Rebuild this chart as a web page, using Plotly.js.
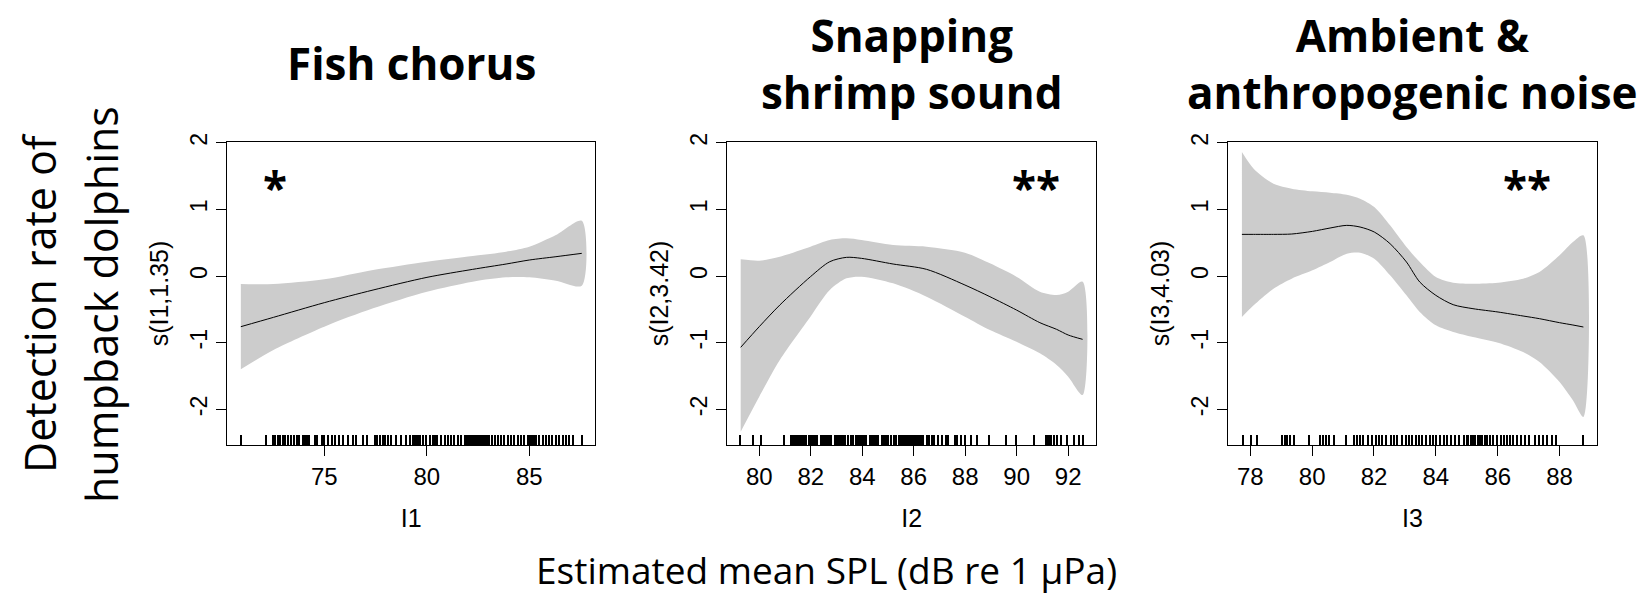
<!DOCTYPE html>
<html>
<head>
<meta charset="utf-8">
<script src="https://cdn.plot.ly/plotly-3.0.1.min.js"></script>
<style>
  html, body { margin: 0; padding: 0; background: #ffffff; }
  #chart { width: 1644px; height: 597px; }
</style>
</head>
<body>
<div id="chart"></div>
<script>
// ---------------- Data ----------------
// Panel 1: Fish chorus, s(I1,1.35)
const x1 = [70.93, 72.52, 75.0, 77.38, 80.01, 82.24, 83.87, 85.0, 86.3, 87.56];
const fit1 = [-0.76, -0.62, -0.40, -0.21, -0.02, 0.10, 0.18, 0.24, 0.29, 0.34];
const up1 = [-0.12, -0.12, -0.05, 0.09, 0.215, 0.30, 0.365, 0.44, 0.615, 0.83];
const lo1 = [-1.40, -1.11, -0.76, -0.485, -0.235, -0.085, -0.02, -0.02, -0.07, -0.145];
const rug1 = [70.93, 72.16, 72.49, 72.60, 72.73, 72.84, 72.97, 73.10, 73.22, 73.36, 73.53, 73.65, 73.78,
  73.98, 74.05, 74.12, 74.20, 74.27, 74.55, 74.66, 74.87, 75.0, 75.19, 75.36, 75.52, 75.73, 75.92, 76.17,
  76.41, 76.57, 76.90, 77.06, 77.46, 77.58, 77.71, 77.84, 77.95, 78.11, 78.27, 78.52, 78.76, 79.0, 79.17,
  79.33, 79.40, 79.48, 79.55, 79.65, 79.81, 79.98, 80.14, 80.30, 80.38, 80.49, 80.70, 80.87, 81.03, 81.19,
  81.35, 81.52, 81.68, 81.84, 81.92, 82.0, 82.08, 82.16, 82.24, 82.32, 82.4, 82.48, 82.56, 82.64, 82.72,
  82.8, 82.88, 82.96, 83.04, 83.18, 83.35, 83.46, 83.62, 83.78, 83.95, 84.11, 84.27, 84.43, 84.59, 84.76,
  84.92, 85.0, 85.08, 85.16, 85.25, 85.32, 85.49, 85.65, 85.81, 85.97, 86.13, 86.30, 86.46, 86.62, 86.78,
  86.94, 87.11, 87.56];
const ticks1 = [75, 80, 85];

// Panel 2: Snapping shrimp sound, s(I2,3.42)
const x2 = [79.28, 80.0, 80.80, 81.99, 82.74, 83.39, 83.97, 85.20, 86.50, 87.99, 88.96, 89.99, 90.90, 91.55, 92.0, 92.56];
const fit2 = [-1.07, -0.76, -0.435, -0.01, 0.215, 0.28, 0.265, 0.18, 0.10, -0.135, -0.31, -0.51, -0.70, -0.80, -0.885, -0.95];
const up2 = [0.25, 0.23, 0.29, 0.44, 0.54, 0.565, 0.54, 0.465, 0.44, 0.35, 0.19, -0.01, -0.235, -0.285, -0.235, -0.085];
const lo2 = [-2.335, -1.81, -1.26, -0.61, -0.21, -0.035, -0.01, -0.11, -0.31, -0.61, -0.81, -0.985, -1.16, -1.335, -1.51, -1.785];
const rug2 = [79.27, 79.74, 80.06, 80.97, 81.23, 81.30, 81.36, 81.43, 81.50, 81.60, 81.68, 81.75, 81.81,
  81.92, 82.0, 82.08, 82.16, 82.24, 82.40, 82.48, 82.56, 82.64, 82.72, 82.80, 82.95, 83.03, 83.11, 83.19,
  83.27, 83.35, 83.43, 83.58, 83.66, 83.74, 83.82, 83.90, 83.98, 84.06, 84.14, 84.30, 84.38, 84.46, 84.54,
  84.62, 84.78, 84.86, 84.94, 85.02, 85.10, 85.25, 85.33, 85.41, 85.49, 85.57, 85.65, 85.73, 85.81, 85.89,
  85.97, 86.05, 86.13, 86.21, 86.29, 86.37, 86.50, 86.60, 86.70, 86.80, 86.95, 87.10, 87.25, 87.35,
  87.60, 87.70, 87.85, 88.0, 88.21, 88.47, 88.93, 89.57, 89.96, 90.67, 91.13, 91.20, 91.28, 91.35, 91.45,
  91.55, 91.71, 91.97, 92.23, 92.42, 92.56];
const ticks2 = [80, 82, 84, 86, 88, 90, 92];

// Panel 3: Ambient & anthropogenic noise, s(I3,4.03)
const x3 = [77.73, 78.11, 78.75, 79.34, 80.01, 80.58, 81.12, 81.55, 82.01, 82.52, 83.05, 83.48, 84.0, 84.56, 85.2, 86.01, 86.82, 87.35, 88.0, 88.43, 88.77];
const fit3 = [0.625, 0.625, 0.625, 0.63, 0.67, 0.72, 0.76, 0.735, 0.66, 0.485, 0.21, -0.09, -0.29, -0.43, -0.49, -0.54, -0.60, -0.64, -0.70, -0.735, -0.765];
const up3 = [1.86, 1.61, 1.385, 1.31, 1.27, 1.25, 1.22, 1.16, 1.035, 0.76, 0.435, 0.21, -0.015, -0.10, -0.115, -0.10, -0.04, 0.06, 0.31, 0.51, 0.61];
const lo3 = [-0.615, -0.44, -0.19, -0.04, 0.085, 0.21, 0.335, 0.35, 0.26, 0.01, -0.29, -0.54, -0.74, -0.84, -0.915, -1.0, -1.14, -1.29, -1.59, -1.865, -2.115];
const rug3 = [77.75, 78.02, 78.21, 79.01, 79.12, 79.20, 79.30, 79.42, 79.90, 80.25, 80.35, 80.45, 80.55, 80.70,
  81.08, 81.35, 81.45, 81.55, 81.65, 81.80, 81.95, 82.05, 82.15, 82.25, 82.38, 82.55, 82.65, 82.75, 82.90,
  83.02, 83.12, 83.22, 83.35, 83.45, 83.55, 83.68, 83.82, 83.92, 84.02, 84.12, 84.25, 84.35, 84.50, 84.62,
  84.75, 84.90, 85.0, 85.05, 85.13, 85.20, 85.28, 85.35, 85.42, 85.50, 85.58, 85.66, 85.75, 85.86, 85.97,
  86.10, 86.20, 86.30, 86.40, 86.50, 86.62, 86.75, 86.88, 87.0, 87.20, 87.32, 87.45, 87.60, 87.75, 87.90, 88.77];
const ticks3 = [78, 80, 82, 84, 86, 88];

const yTicks = [-2, -1, 0, 1, 2];
const panelTitles = ["Fish chorus", "Snapping<br>shrimp sound", "Ambient &amp;<br>anthropogenic noise"];
const yTitles = ["s(I1,1.35)", "s(I2,3.42)", "s(I3,4.03)"];
const xTitles = ["I1", "I2", "I3"];
const stars = ["*", "**", "**"];
const starX = [72.6, 90.74, 86.96];
const starY = [1.33, 1.33, 1.33];

// ---------------- Layout constants ----------------
const W = 1644, H = 597;
const boxes = [[227.3, 595.3], [727.3, 1096.0], [1228.3, 1596.7]];
const yTop = 142, yBot = 445;
const xRanges = [[70.27, 88.22], [78.76, 93.08], [77.29, 89.20]];
const yRange = [-2.535, 2.0105];
const BAND = "#cccccc";
const tickFont = { family: "Liberation Sans, Arial, sans-serif", size: 24, color: "#000" };

const xs = [x1, x2, x3], fits = [fit1, fit2, fit3], ups = [up1, up2, up3], los = [lo1, lo2, lo3];
const rugs = [rug1, rug2, rug3], tks = [ticks1, ticks2, ticks3];

const traces = [];
const layout = {
  width: W, height: H,
  margin: { l: 0, r: 0, t: 0, b: 0 },
  paper_bgcolor: "#ffffff", plot_bgcolor: "#ffffff",
  showlegend: false,
  annotations: [],
  font: { family: "Liberation Sans, Arial, sans-serif", color: "#000" }
};

for (let i = 0; i < 3; i++) {
  const n = i + 1;
  const xa = n === 1 ? "x" : "x" + n;
  const ya = n === 1 ? "y" : "y" + n;
  const rugAxisName = "xaxis" + (n + 3);
  const rugRef = "x" + (n + 3);

  // confidence band polygon (upper forward, lower reversed)
  const bx = xs[i].concat(xs[i].slice().reverse());
  const by = ups[i].concat(los[i].slice().reverse());
  traces.push({
    x: bx, y: by, xaxis: xa, yaxis: ya, type: "scatter", mode: "lines",
    fill: "toself", fillcolor: BAND, line: { width: 0, color: BAND, shape: "spline", smoothing: 0.8 },
    hoverinfo: "skip"
  });
  // fitted smooth
  traces.push({
    x: xs[i], y: fits[i], xaxis: xa, yaxis: ya, type: "scatter", mode: "lines",
    line: { color: "#000", width: 1, shape: "spline", smoothing: 0.8 }
  });
  // invisible trace on rug axis so it is drawn
  traces.push({
    x: [rugs[i][0]], y: [yRange[0]], xaxis: rugRef, yaxis: ya, type: "scatter", mode: "markers",
    marker: { opacity: 0 }, hoverinfo: "skip"
  });

  const dom = [boxes[i][0] / W, boxes[i][1] / W];
  layout["xaxis" + (n === 1 ? "" : n)] = {
    domain: dom, range: xRanges[i], anchor: ya,
    showgrid: false, zeroline: false,
    showline: true, mirror: true, linecolor: "#000", linewidth: 1,
    ticks: "outside", ticklen: 10, tickwidth: 1, tickcolor: "#000",
    tickmode: "array", tickvals: tks[i], ticktext: tks[i].map(String),
    tickfont: tickFont,
    title: { text: xTitles[i], font: { family: tickFont.family, size: 25, color: "#000" }, standoff: 20 },
    automargin: false, fixedrange: true
  };
  layout[rugAxisName] = {
    overlaying: xa, anchor: ya, range: xRanges[i], side: "bottom",
    showgrid: false, zeroline: false, showline: false,
    ticks: "inside", ticklen: 10, tickwidth: 2, tickcolor: "#000",
    tickmode: "array", tickvals: rugs[i], showticklabels: false, fixedrange: true
  };
  layout["yaxis" + (n === 1 ? "" : n)] = {
    domain: [1 - yBot / H, 1 - yTop / H], range: yRange, anchor: xa,
    showgrid: false, zeroline: false,
    showline: true, mirror: true, linecolor: "#000", linewidth: 1,
    ticks: "outside", ticklen: 10, tickwidth: 1, tickcolor: "#000",
    tickmode: "array", tickvals: yTicks, ticktext: yTicks.map(String),
    tickangle: -90, tickfont: { family: tickFont.family, size: 23, color: "#000" },
    title: { text: yTitles[i], font: { family: tickFont.family, size: 25, color: "#000" }, standoff: 10 },
    automargin: false, fixedrange: true
  };

  // panel title
  layout.annotations.push({
    xref: "paper", yref: "paper",
    x: (boxes[i][0] + boxes[i][1]) / 2 / W, y: 1 - 63 / H,
    xanchor: "center", yanchor: "middle", showarrow: false,
    text: "<b>" + panelTitles[i] + "</b>",
    font: { family: "Open Sans, Noto Sans, sans-serif", size: 44, color: "#000" }
  });
  // significance stars
  layout.annotations.push({
    xref: xa, yref: ya, x: starX[i], y: starY[i],
    xanchor: "center", yanchor: "middle", showarrow: false,
    text: "<b>" + stars[i] + "</b>",
    font: { family: "Open Sans, Noto Sans, sans-serif", size: 44, color: "#000" }
  });
}

// shared labels
layout.annotations.push({
  xref: "paper", yref: "paper", x: 826 / W, y: 0.0,
  xanchor: "center", yanchor: "bottom", showarrow: false,
  text: "Estimated mean SPL (dB re 1 µPa)",
  font: { family: "Open Sans, Noto Sans, sans-serif", size: 37, color: "#000" }
});
layout.annotations.push({
  xref: "paper", yref: "paper", x: 39 / W, y: 1 - 303 / H,
  xanchor: "center", yanchor: "middle", showarrow: false, textangle: -90,
  text: "Detection rate of",
  font: { family: "Open Sans, Noto Sans, sans-serif", size: 43, color: "#000" }
});
layout.annotations.push({
  xref: "paper", yref: "paper", x: 101 / W, y: 1 - 305 / H,
  xanchor: "center", yanchor: "middle", showarrow: false, textangle: -90,
  text: "humpback dolphins",
  font: { family: "Open Sans, Noto Sans, sans-serif", size: 43, color: "#000" }
});

Plotly.newPlot("chart", traces, layout, { staticPlot: true, displayModeBar: false });
</script>
</body>
</html>
